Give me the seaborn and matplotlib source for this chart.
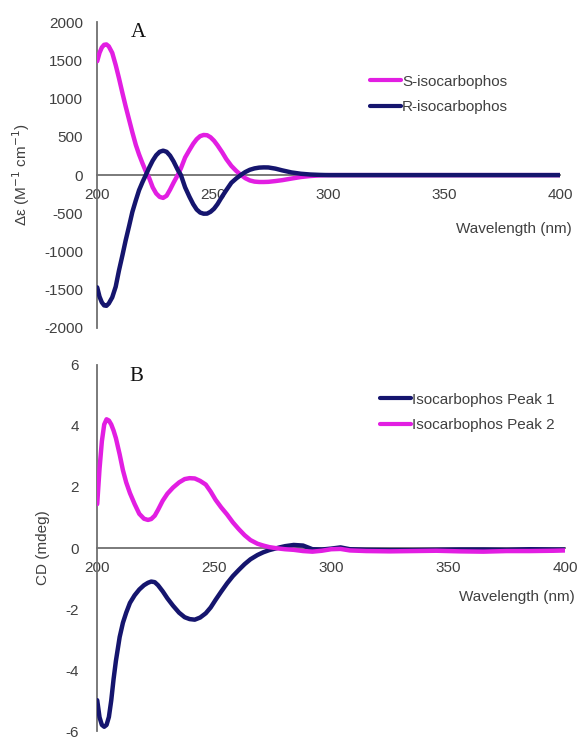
import matplotlib
matplotlib.use("Agg")
import matplotlib.pyplot as plt
import pandas as pd
import seaborn as sns

# panel A: molar CD spectra of the two enantiomers
wl_a = [200, 201, 202, 203, 204, 205, 206.5, 208, 209.4, 210.9, 212.3, 213.8,
        215.2, 216.7, 218.1, 219.6, 221, 222.5, 224, 225.5, 227, 228.5, 230,
        231.5, 233, 234.8, 236.2, 238, 239.9, 241.5, 243, 244.5, 246, 247.5,
        249, 250.5, 252, 254, 255.8, 258, 260.1, 262, 264, 266, 268, 270, 272,
        274, 277, 280, 284, 288, 292, 296, 300, 320, 340, 360, 380, 400]
s_iso = [1490, 1600, 1670, 1705, 1710, 1685, 1600, 1440, 1270, 1075, 900, 724,
         560, 395, 270, 153, 50, -40, -160, -240, -285, -298, -270,
         -190, -100, 0, 90, 230, 330, 410, 470, 510, 525, 522,
         495, 450, 390, 300, 210, 120, 55, 5, -40, -70, -85, -90, -90,
         -88, -78, -66, -45, -25, -12, -4, 0, 0, 0, 0, 0, 0]
r_iso = [-1469, -1590, -1665, -1705, -1710, -1680, -1600, -1460, -1250, -1050, -855, -665,
         -482, -330, -197, -90, 0, 100, 190, 260, 305, 320, 305,
         255, 180, 70, 0, -160, -285, -380, -450, -490, -505, -504,
         -480, -440, -380, -280, -197, -100, -44, 0, 40, 70, 88, 98, 101,
         100, 85, 62, 35, 18, 8, 3, 0, 0, 0, 0, 0, 0]

# panel B: measured CD of the two HPLC peaks
wl_b = [200, 201, 202, 203, 204, 205, 206, 207, 208, 209.6, 211, 212.4, 214,
        216, 218, 220, 221.7, 223.1, 224.6, 226, 228, 230, 232.4, 235, 237.4,
        239.5, 241.7, 244, 246.4, 248.5, 250.6, 253, 255.5, 258, 260.5, 263,
        265.5, 268.5, 271, 273.5, 276, 278, 280.3, 284, 288, 292, 296, 300,
        304, 308, 315, 325, 335, 345, 355, 365, 375, 385, 395, 400]
peak1 = [-4.99, -5.55, -5.80, -5.86, -5.80, -5.54, -5.0, -4.3, -3.7, -2.92, -2.45, -2.12, -1.80,
         -1.55, -1.36, -1.22, -1.14, -1.10, -1.12, -1.22, -1.42, -1.65, -1.89, -2.12, -2.27,
         -2.33, -2.35, -2.28, -2.14, -1.95, -1.70, -1.43, -1.16, -0.92, -0.72, -0.53,
         -0.37, -0.23, -0.14, -0.07, -0.02, 0.02, 0.06, 0.10, 0.08, -0.04, -0.05, -0.02,
         0.02, -0.04, -0.06, -0.07, -0.07, -0.06, -0.05, -0.05, -0.06, -0.04, -0.05, -0.05]
peak2 = [1.44, 2.6, 3.5, 4.05, 4.22, 4.18, 4.05, 3.85, 3.6, 3.07, 2.55, 2.15, 1.80,
         1.44, 1.12, 0.96, 0.92, 0.95, 1.06, 1.25, 1.55, 1.78, 1.98, 2.15, 2.26,
         2.29, 2.28, 2.20, 2.08, 1.85, 1.58, 1.33, 1.10, 0.84, 0.62, 0.42,
         0.26, 0.14, 0.08, 0.03, 0.0, -0.02, -0.04, -0.06, -0.10, -0.12, -0.09, -0.04,
         -0.03, -0.08, -0.10, -0.11, -0.10, -0.09, -0.11, -0.12, -0.10, -0.10, -0.09, -0.08]

ticks_a = [-2000, -1500, -1000, -500, 0, 500, 1000, 1500, 2000]
ticks_b = [-6, -4, -2, 0, 2, 4, 6]
ticks_x = [200, 250, 300, 350, 400]

MAGENTA = "#e21ee2"
NAVY = "#15156e"
AXIS_GREY = "#707070"
TEXT_GREY = "#404040"

sns.set_style("white")
plt.rcParams["font.family"] = ["Liberation Sans", "DejaVu Sans"]
plt.rcParams["font.size"] = 11
plt.rcParams["axes.unicode_minus"] = False

df_a = pd.concat([
    pd.DataFrame({"wl": wl_a, "val": s_iso, "series": "S-isocarbophos"}),
    pd.DataFrame({"wl": wl_a, "val": r_iso, "series": "R-isocarbophos"}),
])
df_b = pd.concat([
    pd.DataFrame({"wl": wl_b, "val": peak1, "series": "Isocarbophos Peak 1"}),
    pd.DataFrame({"wl": wl_b, "val": peak2, "series": "Isocarbophos Peak 2"}),
])


def style_axis(ax, yticks, ypad):
    for side in ["top", "right"]:
        ax.spines[side].set_visible(False)
    ax.spines["bottom"].set_position(("data", 0))
    for side in ["left", "bottom"]:
        ax.spines[side].set_color(AXIS_GREY)
        ax.spines[side].set_linewidth(1.3)
    ax.set_xlim(200, 400)
    ax.set_ylim(yticks[0], yticks[-1])
    ax.set_xticks(ticks_x)
    ax.set_yticks(yticks)
    ax.tick_params(axis="both", direction="in", length=4, width=1,
                   color=AXIS_GREY, labelcolor=TEXT_GREY, labelsize=11)
    ax.tick_params(axis="y", pad=ypad)
    ax.tick_params(axis="x", pad=9)
    for line in ax.get_lines():
        line.set_solid_joinstyle("round")
        line.set_solid_capstyle("round")


def add_legend(ax, anchor):
    old = ax.get_legend()
    handles = old.legend_handles
    labels = [t.get_text() for t in old.get_texts()]
    for h in handles:
        h.set_linewidth(3)
    leg = ax.legend(handles, labels, loc="center left", bbox_to_anchor=anchor,
                    bbox_transform=ax.figure.transFigure, frameon=False,
                    borderaxespad=0, borderpad=0, handlelength=2.0,
                    handletextpad=0.1, labelspacing=0.75, fontsize=11)
    for t in leg.get_texts():
        t.set_color(TEXT_GREY)


fig = plt.figure(figsize=(5.82, 7.42), dpi=100)
ax_a = fig.add_axes([0.167, 0.558, 0.795, 0.412])
ax_b = fig.add_axes([0.167, 0.0148, 0.804, 0.4933])

sns.lineplot(data=df_a, x="wl", y="val", hue="series",
             hue_order=["S-isocarbophos", "R-isocarbophos"],
             palette=[MAGENTA, NAVY], linewidth=3.2, sort=False,
             ax=ax_a, zorder=3)
style_axis(ax_a, ticks_a, 10)
ax_a.set_xlabel("Wavelength (nm)", color=TEXT_GREY, fontsize=11, ha="right")
ax_a.xaxis.set_label_coords(1.026, 0.346)
ax_a.set_ylabel("Δε (M$^{-1}$ cm$^{-1}$)", color=TEXT_GREY, fontsize=11)
ax_a.yaxis.set_label_coords(-0.14, 0.5)
ax_a.text(0.089, 0.967, "A", transform=ax_a.transAxes, ha="center", va="center",
          fontsize=15, family="Liberation Serif", color="#111111")
add_legend(ax_a, (0.636, 0.8726))

sns.lineplot(data=df_b, x="wl", y="val", hue="series",
             hue_order=["Isocarbophos Peak 1", "Isocarbophos Peak 2"],
             palette=[NAVY, MAGENTA], linewidth=3.2, sort=False,
             ax=ax_b, zorder=3)
style_axis(ax_b, ticks_b, 13)
ax_b.set_xlabel("Wavelength (nm)", color=TEXT_GREY, fontsize=11, ha="right")
ax_b.xaxis.set_label_coords(1.021, 0.385)
ax_b.set_ylabel("CD (mdeg)", color=TEXT_GREY, fontsize=11)
ax_b.yaxis.set_label_coords(-0.10, 0.5)
ax_b.text(0.083, 0.968, "B", transform=ax_b.transAxes, ha="center", va="center",
          fontsize=15, family="Liberation Serif", color="#111111")
add_legend(ax_b, (0.653, 0.444))

fig.savefig("out.png", dpi=100)
plt.close(fig)
